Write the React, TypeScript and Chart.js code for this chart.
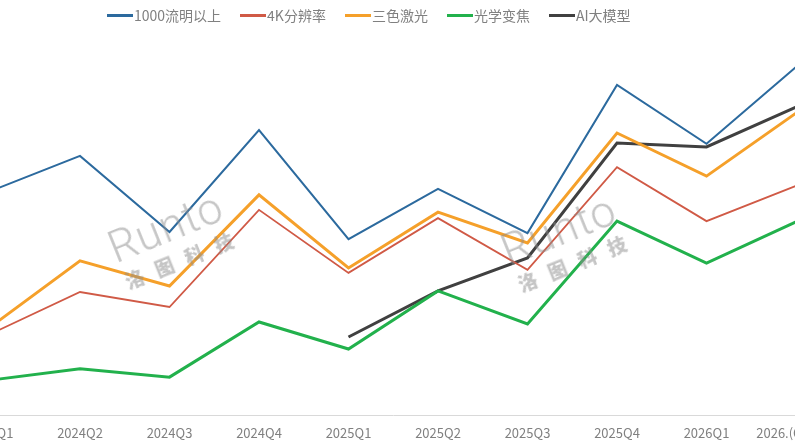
import React, { useEffect, useRef } from "react";
import { Chart, registerables } from "chart.js";

Chart.register(...registerables);

const categories = ["2024Q1", "2024Q2", "2024Q3", "2024Q4", "2025Q1", "2025Q2", "2025Q3", "2025Q4", "2026Q1", "2026.(Q1-Q2)"];
const seriesNames = ["1000流明以上", "4K分辨率", "三色激光", "光学变焦", "AI大模型"];
const lumen1000 = [59.7, 69.1, 48.8, 76.0, 46.9, 60.3, 48.5, 88.0, 72.3, 92.8];
const res4k = [21.6, 32.8, 28.8, 54.7, 37.9, 52.5, 38.7, 66.1, 51.7, 61.1];
const laser3 = [23.5, 41.1, 34.4, 58.7, 39.2, 54.1, 45.9, 75.2, 63.7, 80.5];
const opticalZoom = [9.3, 12.3, 10.1, 24.8, 17.6, 33.1, 24.3, 51.7, 40.5, 51.5];
const aiModel = [null, null, null, null, 20.8, 33.1, 41.9, 72.5, 71.5, 82.1];

const seriesValues = [lumen1000, res4k, laser3, opticalZoom, aiModel];
const seriesColors = ["#2c6a9e", "#d05a46", "#f5a02a", "#22b14c", "#404040"];
const seriesWidths = [2, 1.8, 3, 3, 3];

const FONT = "'Noto Sans CJK SC', 'Liberation Sans', sans-serif";

function Watermark({ cx, cy }: { cx: number; cy: number }) {
  return (
    <div
      style={{
        position: "absolute",
        left: cx - 90,
        top: cy - 40,
        width: 180,
        height: 80,
        transform: "rotate(-22deg)",
        textAlign: "center",
        pointerEvents: "none",
        color: "rgba(140,140,140,0.5)",
        fontFamily: FONT,
      }}
    >
      <div style={{ fontFamily: "Roboto, 'Liberation Sans', sans-serif", fontWeight: 300, fontSize: 44, lineHeight: "46px", letterSpacing: 1 }}>Runto</div>
      <div style={{ fontWeight: 900, fontSize: 19, lineHeight: "26px", letterSpacing: 13, paddingLeft: 13 }}>洛图科技</div>
    </div>
  );
}

export default function App() {
  const canvasRef = useRef<HTMLCanvasElement | null>(null);

  useEffect(() => {
    if (!canvasRef.current) return;
    const chart = new Chart(canvasRef.current, {
      type: "line",
      data: {
        labels: categories,
        datasets: seriesNames.map((name, i) => ({
          label: name,
          data: seriesValues[i] as any,
          borderColor: seriesColors[i],
          backgroundColor: seriesColors[i],
          borderWidth: seriesWidths[i],
          pointRadius: 0,
          tension: 0,
          fill: false,
          spanGaps: false,
        })),
      },
      options: {
        responsive: false,
        animation: false,
        devicePixelRatio: 1,
        layout: { padding: { left: 90.5, right: 104, top: 40, bottom: 0.4 } },
        plugins: { legend: { display: false }, tooltip: { enabled: false } },
        scales: {
          x: {
            grid: { display: false, drawTicks: false },
            border: { display: true, color: "#d9d9d9", width: 1 },
            ticks: {
              color: "#808080",
              font: { size: 13, family: FONT },
              padding: 10,
              maxRotation: 0,
              autoSkip: false,
            },
          },
          y: { display: false, min: 0, max: 100 },
        },
      },
    });
    return () => chart.destroy();
  }, []);

  return (
    <div
      style={{
        position: "fixed",
        left: 0,
        top: 0,
        width: 795,
        height: 448,
        overflow: "hidden",
        background: "#ffffff",
      }}
    >
      <canvas ref={canvasRef} width={1000} height={451} style={{ position: "absolute", left: -100, top: 0 }} />
      <Watermark cx={172} cy={243} />
      <Watermark cx={565} cy={246} />
      <div
        style={{
          position: "absolute",
          left: 107,
          top: 5,
          display: "flex",
          alignItems: "center",
          fontFamily: FONT,
          fontSize: 14,
          color: "#808080",
          lineHeight: "20px",
          whiteSpace: "nowrap",
        }}
      >
        {seriesNames.map((name, i) => (
          <div key={name} style={{ display: "flex", alignItems: "center", marginRight: i < seriesNames.length - 1 ? 19 : 0 }}>
            <div style={{ width: 26, height: 3, background: seriesColors[i], marginRight: 1 }} />
            <span>{name}</span>
          </div>
        ))}
      </div>
    </div>
  );
}
